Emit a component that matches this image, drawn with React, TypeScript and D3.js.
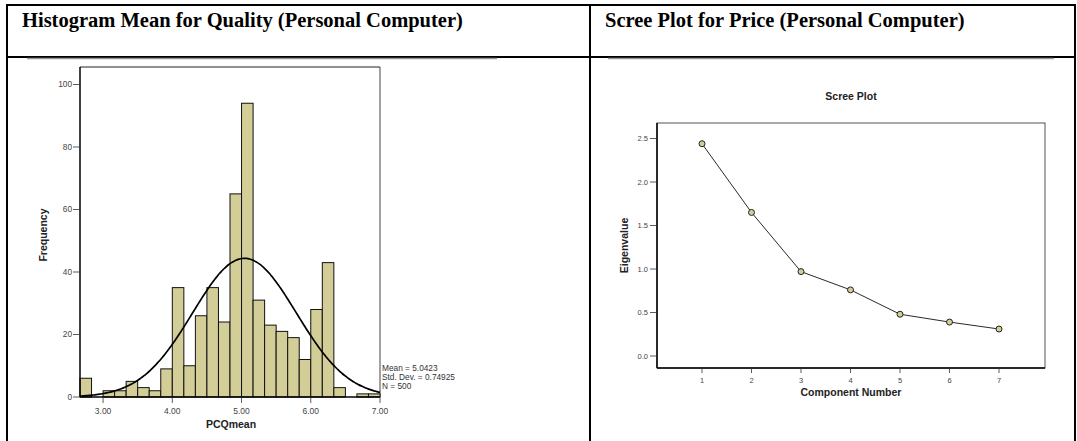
import React from "react";
import * as d3 from "d3";

// Histogram of PCQmean: bins of width 1/6 starting at 2.6667
const binStart = 8 / 3;
const binWidth = 1 / 6;
const binCounts = [6, 0, 2, 2, 5, 3, 2, 9, 35, 10, 26, 35, 24, 65, 94, 31, 23, 21, 19, 12, 28, 43, 3, 0, 1, 1];
const histXTicks = [3, 4, 5, 6, 7];
const histYTicks = [0, 20, 40, 60, 80, 100];
const statMean = 5.0423;
const statSd = 0.74925;
const statN = 500;
const statLines = ["Mean = 5.0423", "Std. Dev. = 0.74925", "N = 500"];

// Scree plot eigenvalues
const components = [1, 2, 3, 4, 5, 6, 7];
const eigenvalues = [2.44, 1.65, 0.97, 0.76, 0.48, 0.39, 0.31];
const screeYTicks = [0, 0.5, 1.0, 1.5, 2.0, 2.5];

const headerLeft = "Histogram Mean for Quality (Personal Computer)";
const headerRight = "Scree Plot for Price (Personal Computer)";

const BAR_FILL = "#d3ce97";
const SANS = "Liberation Sans, Arial, sans-serif";
const NARROW = "Liberation Sans Narrow, Arial Narrow, Liberation Sans, sans-serif";
const SERIF = "Liberation Serif, Times New Roman, serif";

function Histogram() {
  const left = 80, right = 380, top = 67, bottom = 397;
  const x = d3.scaleLinear().domain([binStart, 7]).range([left, right]);
  const y = d3.scaleLinear().domain([0, 100]).range([bottom, 84.5]);

  const pdf = (v: number) =>
    (statN * binWidth) / (statSd * Math.sqrt(2 * Math.PI)) *
    Math.exp(-0.5 * ((v - statMean) / statSd) ** 2);
  const curvePts = d3.range(0, 201).map((i) => binStart + (i / 200) * (7 - binStart));
  const curve = d3.line<number>().x((v) => x(v)).y((v) => y(pdf(v))).curve(d3.curveBasis)(curvePts);

  return (
    <g>
      {/* plot frame */}
      <line x1={left} x2={right} y1={top} y2={top} stroke="#222" strokeWidth={1} />
      <line x1={right} x2={right} y1={top} y2={bottom} stroke="#444" strokeWidth={1} />
      {binCounts.map((c, i) =>
        c > 0 ? (
          <rect
            key={i}
            x={x(binStart + i * binWidth)}
            y={y(c)}
            width={x(binStart + (i + 1) * binWidth) - x(binStart + i * binWidth)}
            height={y(0) - y(c)}
            fill={BAR_FILL}
            stroke="#111"
            strokeWidth={1}
          />
        ) : null
      )}
      <path d={curve || ""} fill="none" stroke="#000" strokeWidth={1.7} />
      {/* axes */}
      <line x1={left} x2={left} y1={top} y2={bottom} stroke="#000" strokeWidth={1.5} />
      <line x1={left} x2={right} y1={bottom} y2={bottom} stroke="#000" strokeWidth={1.5} />
      {histYTicks.map((t) => (
        <g key={t}>
          <line x1={left - 7} x2={left} y1={y(t)} y2={y(t)} stroke="#333" strokeWidth={0.8} />
          <text x={left - 8} y={y(t)} dy="0.35em" textAnchor="end" fontSize={8.3} fill="#444" fontFamily={SANS}>
            {t}
          </text>
        </g>
      ))}
      {histXTicks.map((t) => (
        <g key={t}>
          <line x1={x(t)} x2={x(t)} y1={bottom} y2={bottom + 6} stroke="#333" strokeWidth={0.8} />
          <text x={x(t)} y={bottom + 17} textAnchor="middle" fontSize={8.5} fill="#444" fontFamily={SANS}>
            {t.toFixed(2)}
          </text>
        </g>
      ))}
      <text x={231} y={428} textAnchor="middle" fontSize={10.5} fontWeight="bold" fill="#222" fontFamily={SANS}>
        PCQmean
      </text>
      <text
        transform={`translate(47, ${(top + bottom) / 2 + 3}) rotate(-90)`}
        textAnchor="middle"
        fontSize={10.5}
        fontWeight="bold"
        fill="#222"
        fontFamily={NARROW}
      >
        Frequency
      </text>
      {statLines.map((s, i) => (
        <text key={s} x={382} y={370.5 + i * 9.3} fontSize={8.3} fill="#333" fontFamily={SANS}>
          {s}
        </text>
      ))}
    </g>
  );
}

function Scree() {
  const left = 657, right = 1045, top = 123, bottom = 368;
  const x = d3.scaleLinear().domain([1, 7]).range([702, 999]);
  const y = d3.scaleLinear().domain([0, 2.5]).range([356, 138.5]);
  const path = d3.line<number>().x((_, i) => x(components[i])).y((v) => y(v))(eigenvalues);

  return (
    <g>
      <text x={(left + right) / 2} y={100} textAnchor="middle" fontSize={10.5} fontWeight="bold" fill="#222" fontFamily={SANS}>
        Scree Plot
      </text>
      <rect x={left} y={top} width={right - left} height={bottom - top} fill="none" stroke="#555" strokeWidth={1} />
      <line x1={left} x2={left} y1={top} y2={bottom} stroke="#000" strokeWidth={1.5} />
      <line x1={left} x2={right} y1={bottom} y2={bottom} stroke="#000" strokeWidth={1.5} />
      {screeYTicks.map((t) => (
        <g key={t}>
          <line x1={left - 7} x2={left} y1={y(t)} y2={y(t)} stroke="#333" strokeWidth={0.8} />
          <text x={left - 9} y={y(t)} dy="0.35em" textAnchor="end" fontSize={7.5} fill="#444" fontFamily={SANS}>
            {t.toFixed(1)}
          </text>
        </g>
      ))}
      {components.map((c) => (
        <g key={c}>
          <line x1={x(c)} x2={x(c)} y1={bottom} y2={bottom + 5} stroke="#333" strokeWidth={0.8} />
          <text x={x(c)} y={bottom + 15} textAnchor="middle" fontSize={7.5} fill="#444" fontFamily={SANS}>
            {c}
          </text>
        </g>
      ))}
      <path d={path || ""} fill="none" stroke="#111" strokeWidth={0.9} />
      {eigenvalues.map((v, i) => (
        <circle key={i} cx={x(components[i])} cy={y(v)} r={3} fill={BAR_FILL} stroke="#222" strokeWidth={1} />
      ))}
      <text x={(left + right) / 2} y={396} textAnchor="middle" fontSize={10.5} fontWeight="bold" fill="#222" fontFamily={SANS}>
        Component Number
      </text>
      <text
        transform={`translate(628, ${(top + bottom) / 2}) rotate(-90)`}
        textAnchor="middle"
        fontSize={10.5}
        fontWeight="bold"
        fill="#222"
        fontFamily={NARROW}
      >
        Eigenvalue
      </text>
    </g>
  );
}

export default function App() {
  return (
    <svg
      width={1077}
      height={441}
      viewBox="0 0 1077 441"
      style={{ position: "absolute", left: 0, top: 0, background: "#fff" }}
    >
      <rect width={1077} height={441} fill="#fff" />
      {/* table borders */}
      <line x1={7} x2={7} y1={4} y2={441} stroke="#000" strokeWidth={2} />
      <line x1={590} x2={590} y1={4} y2={441} stroke="#000" strokeWidth={2} />
      <line x1={1075} x2={1075} y1={4} y2={441} stroke="#000" strokeWidth={2} />
      <line x1={6} x2={1076} y1={5} y2={5} stroke="#000" strokeWidth={2} />
      <line x1={6} x2={1076} y1={57} y2={57} stroke="#000" strokeWidth={2} />
      {/* rules beneath the header row */}
      <line x1={27} x2={497} y1={58.5} y2={58.5} stroke="#999" strokeWidth={1.5} />
      <line x1={608} x2={1054} y1={58.5} y2={58.5} stroke="#999" strokeWidth={1.5} />
      <text x={22} y={27} fontSize={20.5} fontWeight="bold" fontFamily={SERIF} fill="#000">
        {headerLeft}
      </text>
      <text x={605} y={27} fontSize={20.5} fontWeight="bold" fontFamily={SERIF} fill="#000">
        {headerRight}
      </text>
      <Histogram />
      <Scree />
    </svg>
  );
}
